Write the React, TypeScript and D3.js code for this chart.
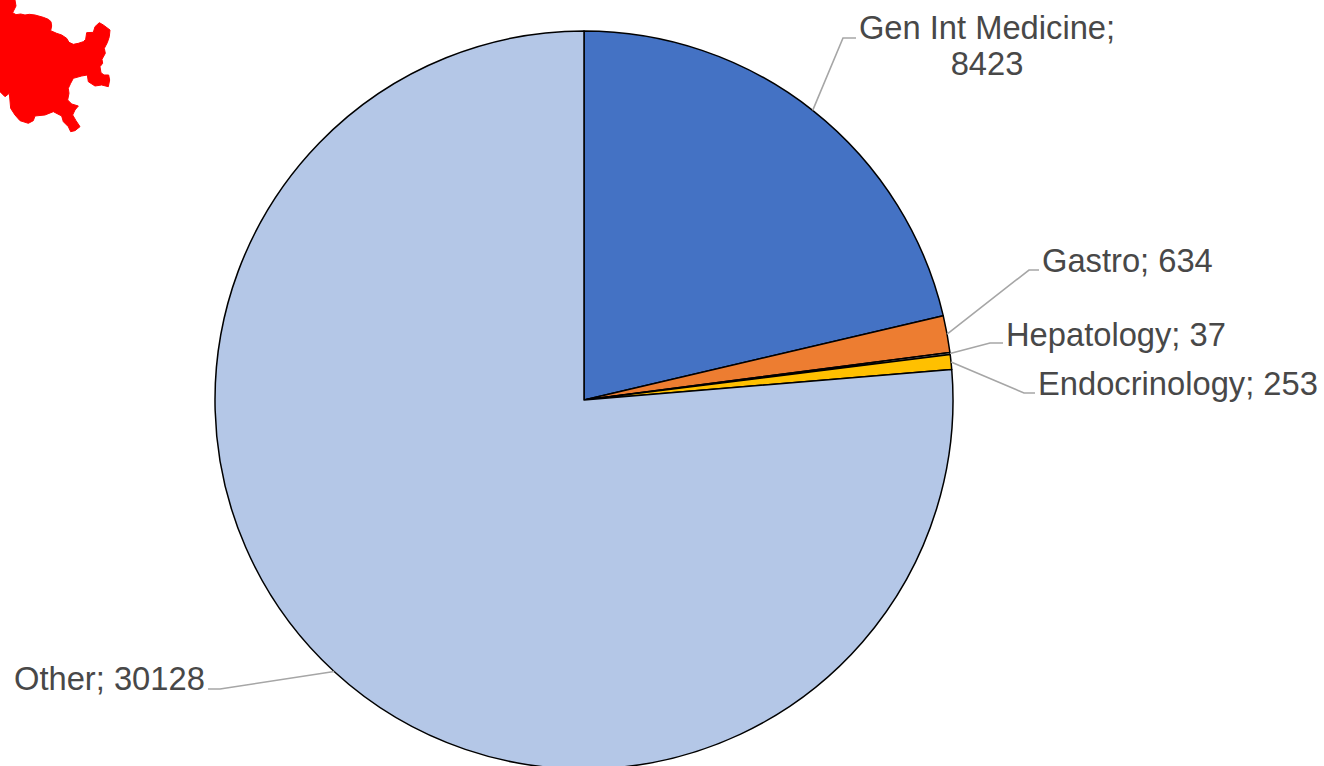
import React from "react";
import * as d3 from "d3";

const categories = ["Gen Int Medicine", "Gastro", "Hepatology", "Endocrinology", "Other"];
const counts = [8423, 634, 37, 253, 30128];
const sliceColors = ["#4472c4", "#ed7d31", "#a5a5a5", "#ffc000", "#b4c7e7"];

// Outline of the highlighted region in the top-left corner, in thirds of a pixel
const regionOutline: [number, number][] = [
  [0, 0], [45, 0], [48, 18], [38, 38], [48, 44], [62, 42], [75, 45], [88, 43], [105, 45], [130, 52],
  [145, 58], [153, 65], [155, 78], [152, 92], [170, 100], [185, 105], [200, 115], [207, 127], [220, 133],
  [235, 130], [250, 125], [257, 118], [260, 98], [280, 97], [285, 80], [298, 68], [310, 75], [330, 90],
  [328, 110], [322, 128], [313, 145], [316, 160], [306, 178], [308, 190], [300, 200], [303, 218],
  [312, 225], [326, 225], [329, 240], [325, 260], [305, 255], [285, 258], [265, 245], [262, 225],
  [245, 228], [220, 235], [212, 250], [205, 265], [207, 280], [203, 300], [215, 312], [235, 318],
  [225, 330], [218, 345], [228, 362], [240, 380], [225, 392], [212, 395], [205, 380], [190, 365],
  [185, 348], [160, 335], [135, 345], [105, 348], [100, 362], [85, 370], [60, 362], [45, 345],
  [32, 325], [28, 280], [15, 290], [0, 275],
];

// Leader line bend and end points, then label lines, for each category
const leaderBends: [number, number][] = [[843, 38], [1029, 270], [990, 343], [1024, 393], [220, 689]];
const leaderEnds: [number, number][] = [[856, 38], [1039, 270], [1003, 343], [1035, 393], [208, 689]];
const labelLines: string[][] = [
  ["Gen Int Medicine;", "8423"], ["Gastro; 634"], ["Hepatology; 37"], ["Endocrinology; 253"], ["Other; 30128"],
];
const labelAnchors: [number, number][] = [[987, 38.5], [1042, 271.5], [1006, 345.5], [1038, 395], [14, 689.5]];
const labelAlign = ["middle", "start", "start", "start", "start"];
const leaderStartAngleDeg = [38.3, 0, 0, 0, 0];

const cx = 584;
const cy = 400;
const radius = 369;

export default function App() {
  const pie = d3.pie<number>().sort(null).value((d) => d);
  const arcs = pie(counts);
  const arc = d3.arc<d3.PieArcDatum<number>>().innerRadius(0).outerRadius(radius);
  const outline = d3.line();
  const leader = d3.line();

  return (
    <svg width={1324} height={766} style={{ position: "absolute", left: 0, top: 0, background: "#fff" }}>
      <g transform="scale(0.3333)">
        <path d={outline(regionOutline) + "Z"} fill="#ff0000" stroke="#ff0000" strokeWidth={3} strokeLinejoin="round" />
      </g>
      <g transform={`translate(${cx},${cy})`}>
        {arcs.map((a, i) => (
          <path key={categories[i]} d={arc(a) ?? ""} fill={sliceColors[i]} stroke="#000" strokeWidth={1.5} strokeLinejoin="round" />
        ))}
      </g>
      {arcs.map((a, i) => {
        const mid = leaderStartAngleDeg[i] ? (leaderStartAngleDeg[i] * Math.PI) / 180 : (a.startAngle + a.endAngle) / 2;
        const start: [number, number] = [cx + radius * Math.sin(mid), cy - radius * Math.cos(mid)];
        return (
          <path key={categories[i]} d={leader([start, leaderBends[i], leaderEnds[i]]) ?? ""} fill="none" stroke="#a6a6a6" strokeWidth={1.6} />
        );
      })}
      {labelLines.map((lines, i) => (
        <text
          key={categories[i]}
          x={labelAnchors[i][0]}
          y={labelAnchors[i][1]}
          textAnchor={labelAlign[i]}
          fontFamily="'Liberation Sans', Arial, sans-serif"
          fontSize={32.7}
          fill="#484848"
        >
          {lines.map((line, j) => (
            <tspan key={line} x={labelAnchors[i][0]} dy={j === 0 ? 0 : 36}>{line}</tspan>
          ))}
        </text>
      ))}
    </svg>
  );
}
